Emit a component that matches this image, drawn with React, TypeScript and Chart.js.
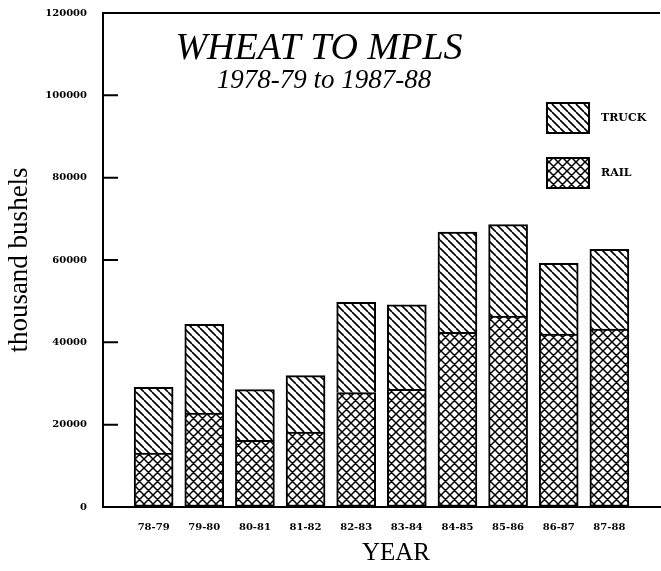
import React, { useEffect, useRef } from 'react';
import { Chart, registerables } from 'chart.js';

Chart.register(...registerables);

// ---- data ----
const years = ['78-79', '79-80', '80-81', '81-82', '82-83', '83-84', '84-85', '85-86', '86-87', '87-88'];
const railValues = [13100, 22800, 16200, 18200, 27800, 28600, 42400, 46400, 42000, 43200];
const truckValues = [16000, 21600, 12300, 13700, 21900, 20500, 24400, 22200, 17200, 19400];
const yMin = 0;
const yMax = 120000;
const yStep = 20000;
const titleText = 'WHEAT TO MPLS';
const subtitleText = '1978-79 to 1987-88';
const xTitleText = 'YEAR';
const yTitleText = 'thousand bushels';
const truckName = 'TRUCK';
const railName = 'RAIL';

const SERIF = '"Liberation Serif", "Times New Roman", serif';
const SMALL = '"DejaVu Serif", serif';

function makeHatch(ctx: CanvasRenderingContext2D, cross: boolean, size: number, lw: number) {
  const c = document.createElement('canvas');
  c.width = size;
  c.height = size;
  const g = c.getContext('2d')!;
  g.fillStyle = '#fff';
  g.fillRect(0, 0, size, size);
  g.strokeStyle = '#000';
  g.lineWidth = lw;
  g.beginPath();
  for (const o of [-size, 0, size]) {
    g.moveTo(o, 0);
    g.lineTo(o + size, size);
  }
  if (cross) {
    for (const o of [-size, 0, size]) {
      g.moveTo(o, size);
      g.lineTo(o + size, 0);
    }
  }
  g.stroke();
  return ctx.createPattern(c, 'repeat')!;
}

export default function App() {
  const ref = useRef<HTMLCanvasElement | null>(null);

  useEffect(() => {
    const canvas = ref.current!;
    const ctx = canvas.getContext('2d')!;
    const truckPattern = makeHatch(ctx, false, 8, 1.6);
    const railPattern = makeHatch(ctx, true, 9, 1.5);

    const decor = {
      id: 'decor',
      afterDraw(chart: any) {
        const c = chart.ctx as CanvasRenderingContext2D;
        const { left, right, top } = chart.chartArea;
        const y = chart.scales.y;
        c.save();
        c.strokeStyle = '#000';
        c.lineWidth = 2;
        // top frame line
        c.beginPath();
        c.moveTo(left - 1, top);
        c.lineTo(right, top);
        c.stroke();
        // inward ticks
        c.beginPath();
        for (let v = yMin + yStep; v < yMax; v += yStep) {
          const py = y.getPixelForValue(v);
          c.moveTo(left, py);
          c.lineTo(left + 15, py);
        }
        c.stroke();
        // titles
        c.fillStyle = '#000';
        c.textAlign = 'center';
        c.textBaseline = 'alphabetic';
        c.font = `italic 38px ${SERIF}`;
        c.fillText(titleText, 319, 59);
        c.font = `italic 27px ${SERIF}`;
        c.fillText(subtitleText, 324, 88);
        c.font = `25px ${SERIF}`;
        c.fillText(xTitleText, 396, 560);
        // legend
        const items = [
          { name: truckName, pat: truckPattern, top: 103 },
          { name: railName, pat: railPattern, top: 158 },
        ];
        for (const it of items) {
          c.fillStyle = it.pat;
          c.fillRect(547, it.top, 42, 30);
          c.lineWidth = 2;
          c.strokeRect(547, it.top, 42, 30);
          c.fillStyle = '#000';
          c.textAlign = 'left';
          c.textBaseline = 'middle';
          c.font = `bold 11px ${SMALL}`;
          c.fillText(it.name, 601, it.top + 15);
        }
        c.restore();
      },
    };

    const chart = new Chart(canvas, {
      type: 'bar',
      data: {
        labels: ['', ...years, ''],
        datasets: [
          {
            label: railName,
            data: [null, ...railValues, null],
            backgroundColor: railPattern,
            borderColor: '#000',
            borderWidth: 2,
            borderSkipped: false,
            barThickness: 39,
          },
          {
            label: truckName,
            data: [null, ...truckValues, null],
            backgroundColor: truckPattern,
            borderColor: '#000',
            borderWidth: 2,
            borderSkipped: 'start',
            barThickness: 39,
          },
        ],
      },
      options: {
        responsive: false,
        animation: false,
        devicePixelRatio: 1,
        layout: { padding: { left: 0, top: 13, right: 1, bottom: 0 } },
        plugins: {
          legend: { display: false },
          tooltip: { enabled: false },
          title: { display: false },
        },
        scales: {
          x: {
            stacked: true,
            offset: false,
            afterFit: (s: any) => {
              s.height = 64;
              s.paddingLeft = 0;
              s.paddingRight = 0;
            },
            grid: { display: true, drawOnChartArea: false, drawTicks: false },
            border: { display: true, color: '#000', width: 2 },
            ticks: {
              color: '#000',
              padding: 14,
              maxRotation: 0,
              autoSkip: false,
              font: { family: SMALL, size: 10, weight: 'bold' },
            },
          },
          y: {
            stacked: true,
            min: yMin,
            max: yMax,
            afterFit: (s: any) => {
              s.width = 103;
              s.paddingTop = 0;
              s.paddingBottom = 0;
            },
            grid: { display: true, drawOnChartArea: false, drawTicks: false },
            border: { display: true, color: '#000', width: 2 },
            ticks: {
              stepSize: yStep,
              color: '#000',
              padding: 16,
              font: { family: SMALL, size: 10, weight: 'bold' },
              callback: (v: any) => String(v),
            },
            title: {
              display: true,
              text: yTitleText,
              color: '#000',
              padding: { top: 4, bottom: 0 },
              font: { family: SERIF, size: 27 },
            },
          },
        },
      },
      plugins: [decor],
    } as any);

    return () => chart.destroy();
  }, []);

  return (
    <div style={{ position: 'absolute', left: 0, top: 0, width: 661, height: 571 }}>
      <canvas ref={ref} width={661} height={571} style={{ display: 'block' }} />
    </div>
  );
}
